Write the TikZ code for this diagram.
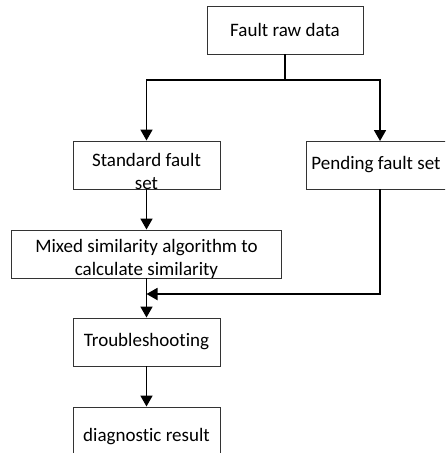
\documentclass[tikz,border=0pt]{standalone}
\usepackage{fontspec}
\setmainfont[Ligatures=NoCommon]{Carlito}
\usetikzlibrary{arrows.meta,calc}
\begin{document}
\begin{tikzpicture}[x=1pt,y=-1pt,
  box/.style={draw=black!80, line width=0.9pt, inner sep=0pt, minimum width=147pt, minimum height=48pt},
  txt/.style={font=\fontsize{19}{23}\selectfont, align=center, inner sep=0pt},
  arr/.style={line width=1.8pt, -{Triangle[length=11pt,width=12pt]}},
  ln/.style={line width=1.8pt}]
\useasboundingbox (0,0) rectangle (445,453);
\clip (0,0) rectangle (445,453);
% boxes
\node[box, minimum width=156pt] (raw) at (285,30) {};
\node[txt] (rawt) at (285,30) {Fault raw data};
\node[box] (std) at (146.5,165) {};
\node[txt] (stdt) at (146.5,171) {Standard fault\\set};
\node[box, minimum width=141pt] (pend) at (376.5,165) {};
\node[txt] (pendt) at (376,165) {Pending fault set};
\node[box, minimum width=270pt] (mix) at (146.5,254) {};
\node[txt] (mixt) at (146.5,259) {Mixed similarity algorithm to\\calculate similarity};
\node[box] (trb) at (146.5,342) {};
\node[txt] (trbt) at (146.5,342) {Troubleshooting};
\node[box, minimum height=62pt] (diag) at (146.5,438) {};
\node[txt] (diagt) at (146.5,437) {diagnostic result};
% connectors
\coordinate (j) at (285,80);
\coordinate (ptop) at (380,141);
\coordinate (pbot) at (380,189);
\coordinate (m) at (146.5,294);
\draw[ln] (raw.south) -- (j);
\draw[arr] (j) -| (std.north);
\draw[arr] (j) -| (ptop);
\draw[arr] (std.south) -- (mix.north);
\draw[arr] (mix.south) -- (trb.north);
\draw[arr] (pbot) |- (m);
\draw[arr] (trb.south) -- (diag.north);
\end{tikzpicture}
\end{document}
